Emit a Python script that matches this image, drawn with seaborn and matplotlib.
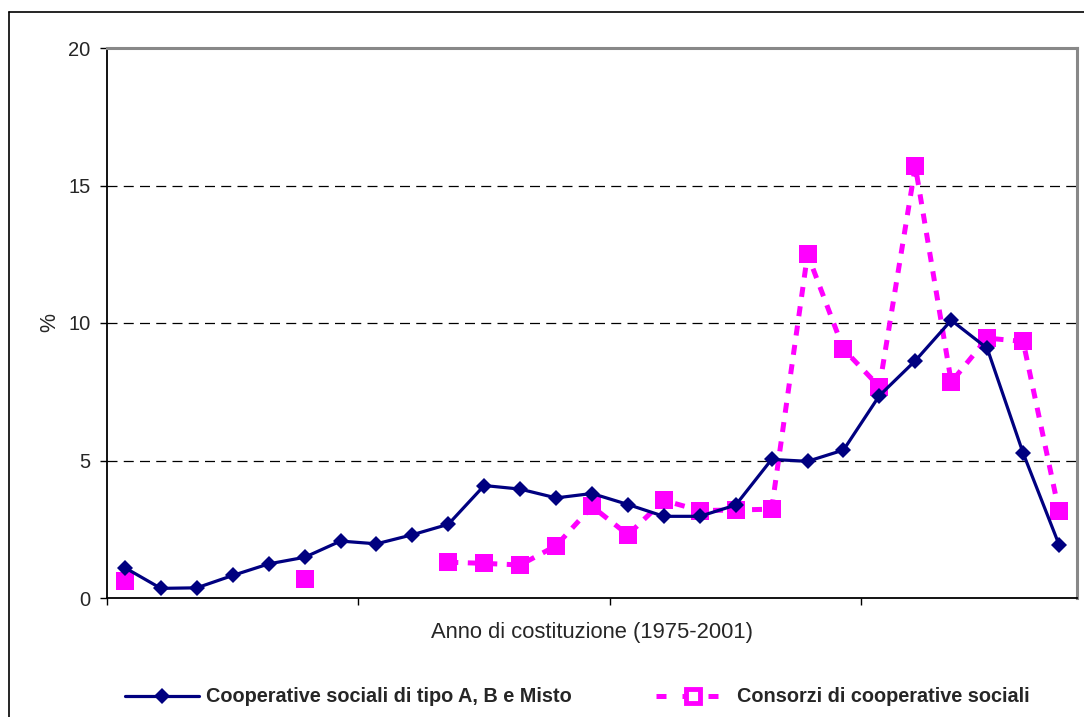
import numpy as np
import pandas as pd
import matplotlib
matplotlib.use("Agg")
import matplotlib.pyplot as plt
from matplotlib.lines import Line2D
import seaborn as sns

# Anni di costituzione
years = list(range(1975, 2002))

# Cooperative sociali di tipo A, B e Misto (%)
coop = [1.1, 0.35, 0.37, 0.82, 1.24, 1.48, 2.07, 1.97, 2.3, 2.68,
        4.09, 3.96, 3.64, 3.8, 3.4, 2.97, 2.97, 3.38, 5.04, 4.97,
        5.38, 7.36, 8.63, 10.1, 9.08, 5.27, 1.94]

# Consorzi di cooperative sociali (%), anni senza dato = NaN
consorzi = [0.62, np.nan, np.nan, np.nan, np.nan, 0.69, np.nan, np.nan, np.nan, 1.3,
            1.26, 1.2, 1.9, 3.33, 2.3, 3.55, 3.18, 3.2, 3.23, 12.5,
            9.05, 7.68, 15.7, 7.85, 9.45, 9.33, 3.15]

label_coop = "Cooperative sociali di tipo A, B e Misto"
label_cons = "Consorzi di cooperative sociali"

NAVY = "#000080"
MAGENTA = "#FF00FF"
DASH = (0, (2.0, 1.9))

sns.set_theme(style="white")
plt.rcParams["font.family"] = ["Liberation Sans", "DejaVu Sans"]

df_coop = pd.DataFrame({"pos": np.arange(len(years)), "val": coop})
df_cons = pd.DataFrame({"pos": np.arange(len(years)), "val": consorzi})
# contiguous runs, so the dashed line breaks where data are missing
df_cons["run"] = df_cons["val"].isna().cumsum()
df_cons = df_cons.dropna()

fig = plt.figure(figsize=(10.84, 7.17), dpi=100)
ax = fig.add_axes([107 / 1084, 1 - 598 / 717, (1077 - 107) / 1084, (598 - 48) / 717])

sns.lineplot(data=df_cons, x="pos", y="val", units="run", estimator=None,
             color=MAGENTA, lw=3.6, marker="s", markersize=12.5,
             markeredgewidth=0, ax=ax, zorder=3)
for ln in ax.lines:
    ln.set_linestyle(DASH)

sns.lineplot(data=df_coop, x="pos", y="val", color=NAVY, lw=2.3,
             marker="D", markersize=8.5, markeredgewidth=0, ax=ax, zorder=4)

ax.set_xlim(-0.5, len(years) - 0.5)
ax.set_ylim(0, 20)
ax.set_yticks([0, 5, 10, 15, 20])
ax.set_xticks([-0.5, 6.5, 13.5, 20.5])
ax.set_xticklabels([])
ax.tick_params(axis="both", which="both", direction="out", length=5,
               width=1.0, color="black", labelsize=14.5, pad=7,
               left=True, bottom=True)
for y in [5, 10, 15]:
    ax.axhline(y, color="black", lw=0.9, ls=(0, (8, 5)), zorder=1)

ax.set_xlabel("Anno di costituzione (1975-2001)", fontsize=15.8, labelpad=5)
ax.set_ylabel("%", fontsize=15.5, labelpad=6)

for side in ["left", "bottom"]:
    ax.spines[side].set_color("black")
    ax.spines[side].set_linewidth(1.3)
for side in ["top", "right"]:
    ax.spines[side].set_color("#888888")
    ax.spines[side].set_linewidth(2.2)

# outer frame of the chart area
fig.add_artist(Line2D([9 / 1084, 1.0], [1 - 12 / 717, 1 - 12 / 717],
                      transform=fig.transFigure, color="black", lw=1.2))
fig.add_artist(Line2D([9 / 1084, 9 / 1084], [0.0, 1 - 12 / 717],
                      transform=fig.transFigure, color="black", lw=1.2))

lsize = 14.3
px = lsize * 100 / 72  # one font-size unit in pixels

handles = [
    Line2D([], [], color=NAVY, lw=2.3, marker="D", markersize=8.5, markeredgewidth=0),
    Line2D([], [], color=MAGENTA, lw=3.6, ls=(0, (2.0, 3.2)), marker="s",
           markersize=10, markerfacecolor="white", markeredgecolor=MAGENTA,
           markeredgewidth=3.5),
]
fig.legend(handles, [label_coop, label_cons], loc="center left",
           bbox_to_anchor=(125 / 1084, 1 - 697 / 717), ncol=2, frameon=False,
           borderaxespad=0, borderpad=0,
           handlelength=74 / px, handletextpad=7 / px,
           columnspacing=84 / px,
           prop={"family": "Liberation Sans", "weight": "bold", "size": lsize})

fig.savefig("out.png", dpi=100, facecolor="white")
